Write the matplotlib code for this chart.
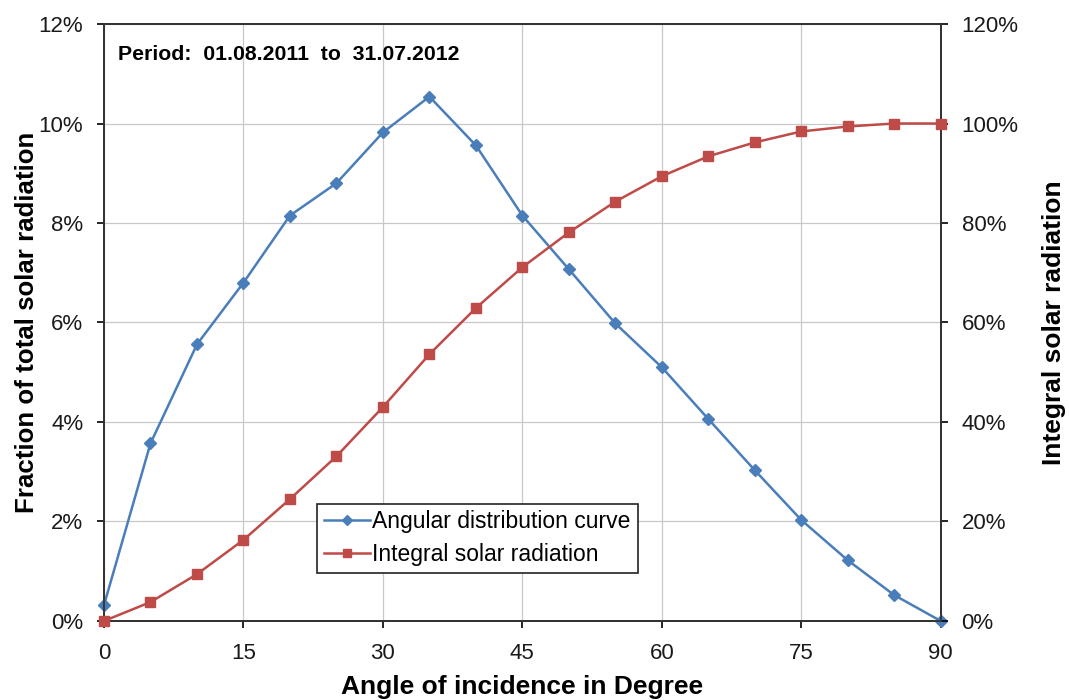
import matplotlib
matplotlib.use("Agg")
import matplotlib.pyplot as plt
from matplotlib.ticker import FuncFormatter, MultipleLocator

plt.rcParams['font.family'] = ['Liberation Sans', 'DejaVu Sans']

angles = [0, 5, 10, 15, 20, 25, 30, 35, 40, 45, 50, 55, 60, 65, 70, 75, 80, 85, 90]
angular = [0.32, 3.57, 5.56, 6.8, 8.15, 8.8, 9.82, 10.54, 9.56, 8.15, 7.07, 5.98, 5.1, 4.06, 3.03, 2.03, 1.22, 0.52, 0.0]
integral = [0.0, 3.8, 9.4, 16.3, 24.5, 33.1, 43.0, 53.6, 62.9, 71.1, 78.1, 84.3, 89.4, 93.4, 96.2, 98.4, 99.4, 100.0, 100.0]

blue = '#4a7ebb'
red = '#be4b48'

fig = plt.figure(figsize=(10.69, 7.0), dpi=100)
ax = fig.add_axes([0.0973, 0.1129, 0.7827, 0.8528])
ax2 = ax.twinx()

ax.set_xlim(0, 90)
ax.set_ylim(0, 12)
ax2.set_ylim(0, 120)
ax.xaxis.set_major_locator(MultipleLocator(15))
ax.yaxis.set_major_locator(MultipleLocator(2))
ax2.yaxis.set_major_locator(MultipleLocator(20))
ax.yaxis.set_major_formatter(FuncFormatter(lambda v, p: f"{v:.0f}%"))
ax2.yaxis.set_major_formatter(FuncFormatter(lambda v, p: f"{v:.0f}%"))
ax.grid(True, color='#c8c8c8', linewidth=0.9)
ax.set_axisbelow(True)

l1, = ax.plot(angles, angular, color=blue, marker='D', markersize=6.5, linewidth=1.8,
              label='Angular distribution curve', clip_on=False, zorder=3)
l2, = ax2.plot(angles, integral, color=red, marker='s', markersize=7.5, linewidth=1.8,
               label='Integral solar radiation', clip_on=False, zorder=3)

for a in (ax, ax2):
    a.tick_params(direction='out', length=5, width=1.2, labelsize=16, pad=10, labelcolor='#1a1a1a')
    for s in a.spines.values():
        s.set_linewidth(1.3)
        s.set_color('#333333')
ax.tick_params(axis='x', pad=11)

ax.set_xlabel('Angle of incidence in Degree', fontsize=19, fontweight='bold')
ax.set_ylabel('Fraction of total solar radiation', fontsize=18.6, fontweight='bold')
ax2.set_ylabel('Integral solar radiation', fontsize=19, fontweight='bold')
ax.xaxis.set_label_coords(0.5, -0.09, transform=ax.transAxes)
ax.yaxis.set_label_coords(-0.078, 0.5, transform=ax.transAxes)
ax2.yaxis.set_label_coords(1.121, 0.5, transform=ax2.transAxes)
ax.xaxis.label.set_va('top')

ax.text(0.017, 0.965, 'Period:  01.08.2011  to  31.07.2012', transform=ax.transAxes,
        fontsize=15.3, fontweight='bold', va='top', ha='left')

leg = ax2.legend(handles=[l1, l2], loc='lower left', bbox_to_anchor=(0.2545, 0.0804, 0.3835, 0.119),
                 mode='expand', fontsize=16.5, frameon=True, fancybox=False, edgecolor='#222222',
                 handlelength=2.0, handletextpad=0.1, borderpad=0.3, labelspacing=0.42,
                 framealpha=1.0, markerscale=0.8, borderaxespad=0)
leg.get_frame().set_linewidth(1.2)

fig.savefig('out.png', dpi=100)
